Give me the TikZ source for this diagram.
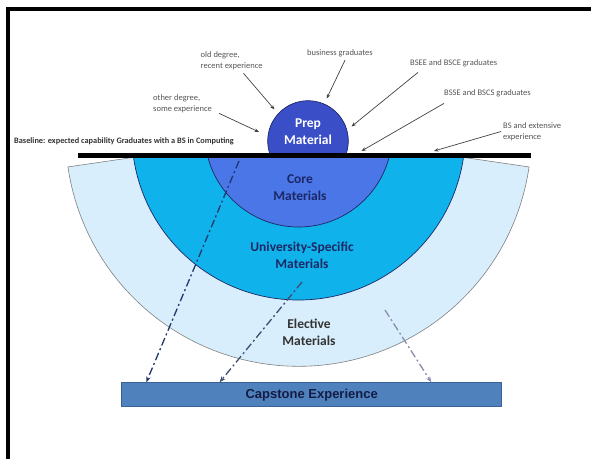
\documentclass[tikz,border=0pt]{standalone}
\usepackage{fontspec}
\setmainfont{Carlito}
\newfontfamily\capfont{Liberation Sans}
\usetikzlibrary{arrows.meta,positioning}

\definecolor{prepblue}{RGB}{58,78,200}
\definecolor{coreblue}{RGB}{74,118,232}
\definecolor{univblue}{RGB}{16,178,236}
\definecolor{elecblue}{RGB}{216,238,252}
\definecolor{capblue}{RGB}{79,129,189}
\definecolor{capedge}{RGB}{58,98,150}
\definecolor{navy}{RGB}{28,40,100}
\definecolor{lblgray}{RGB}{85,85,85}
\definecolor{flowA}{RGB}{31,56,110}
\definecolor{flowB}{RGB}{62,78,112}
\definecolor{flowC}{RGB}{140,140,178}

\tikzset{
  lbl/.style={font=\fontsize{8.5}{11}\selectfont, text=lblgray, inner sep=0pt, align=left},
  ptr/.style={draw=black!75, line width=0.7pt, -{Stealth[length=4.5pt,width=3.5pt]}},
  ringtext/.style={font=\fontsize{13.5}{17}\selectfont\bfseries, text=navy, align=center, inner sep=0pt},
  flow/.style={line width=1.3pt, dash pattern=on 8pt off 3pt on 2pt off 3pt, -{Stealth[length=6pt,width=4.5pt]}},
}

\begin{document}
\begin{tikzpicture}[x=1pt, y=-1pt]
    \useasboundingbox (0,0) rectangle (591,459);
    \draw[line width=4.5pt] (8.2,459) -- (8.2,8.8) -- (591,8.8);

    \coordinate (ctr) at (298.5,133.3);
    \coordinate (pc) at (308,141);

    % rings below the baseline
    \begin{scope}
        \clip (0,157.5) rectangle (591,459);
        \filldraw[fill=elecblue, draw=gray, line width=0.6pt] (ctr) -- ++(8.3:233) arc[start angle=8.3, end angle=171.7, radius=233] -- cycle;
        \filldraw[fill=univblue, draw=navy, line width=0.7pt] (ctr) circle[radius=166.7];
        \filldraw[fill=coreblue, draw=navy, line width=0.7pt] (ctr) circle[radius=93.7];
    \end{scope}
    % prep circle above it
    \begin{scope}
        \clip (0,0) rectangle (591,154.5);
        \filldraw[fill=prepblue, draw=navy, line width=0.7pt] (pc) circle[radius=40.3];
    \end{scope}
    \draw[line width=4.5pt] (78,155.7) -- (531,155.7);

    \node[ringtext, text=white] (prep) at (308,131.5) {Prep\\Material};
    \node[ringtext] (core) at (300,187.5) {Core\\Materials};
    \node[ringtext] (univ) at (302,255.5) {University-Specific\\Materials};
    \node[ringtext, text=black!80] (elective) at (309,332.5) {Elective\\Materials};

    \node[draw=capedge, fill=capblue, line width=0.8pt, minimum width=380pt, minimum height=24pt, inner sep=0pt,
          font=\capfont\bfseries\fontsize{13}{15}\selectfont, text=navy!70!black] (capstone) at (311.7,394.7) {Capstone Experience};

    \node[lbl, font=\fontsize{8.3}{9}\selectfont\bfseries, text=black!80, anchor=west] (base) at (14,141.7) {Baseline: expected capability Graduates with a BS in Computing};
    \node[lbl, anchor=west] (old) at (200.5,61) {old degree,\\recent experience};
    \node[lbl, anchor=west] (other) at (153,104) {other degree,\\some experience};
    \node[lbl, anchor=west] (biz) at (307,53.3) {business graduates};
    \node[lbl, anchor=west] (bsee) at (410,63.5) {BSEE and BSCE graduates};
    \node[lbl, anchor=west] (bsse) at (444,93.5) {BSSE and BSCS graduates};
    \node[lbl, anchor=west] (bsext) at (503,131.5) {BS and extensive\\experience};

    \coordinate (tOld) at (274.5,109.5);
    \coordinate (tOther) at (259,132);
    \coordinate (tBiz) at (326.7,98.5);
    \coordinate (tBsee) at (351.5,126.5);
    \coordinate (tBsse) at (361.5,151);
    \coordinate (tBsext) at (434,151);

    \draw[ptr] ([xshift=43pt,yshift=-3pt]old.south west) -- (tOld);
    \draw[ptr] ([xshift=7pt]other.south east) -- (tOther);
    \draw[ptr] ([xshift=38pt,yshift=-3pt]biz.south west) -- (tBiz);
    \draw[ptr] ([xshift=8pt,yshift=-5pt]bsee.south west) -- (tBsee);
    \draw[ptr] ([yshift=-6pt]bsse.south west) -- (tBsse);
    \draw[ptr] ([xshift=-2pt]bsext.west) -- (tBsext);

    \coordinate (fCore) at (239,161);
    \coordinate (fUniv) at (302,282);
    \coordinate (fElec) at (385,310);
    \draw[flow, flowA] (fCore) -- ([xshift=25pt]capstone.north west);
    \draw[flow, flowB] (fUniv) -- ([xshift=98.3pt]capstone.north west);
    \draw[flow, flowC] (fElec) -- ([xshift=310pt]capstone.north west);
\end{tikzpicture}
\end{document}
